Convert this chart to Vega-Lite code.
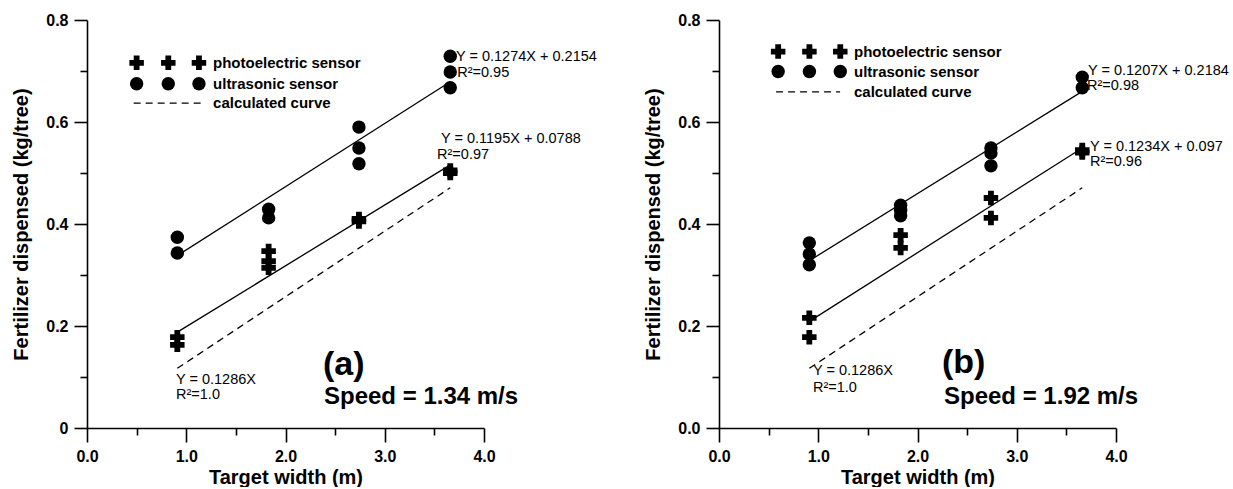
{
"$schema":"https://vega.github.io/schema/vega-lite/v6.json",
"autosize":{"type":"pad"},
"padding":{"left":11,"top":12,"right":0,"bottom":0},
"background":"white",
"bounds":"flush",
"spacing":235,
"config":{
 "font":"Liberation Sans",
 "view":{"stroke":null},
 "axis":{"grid":false,"domainColor":"black","domainWidth":1.6,"tickColor":"black","tickWidth":1.6,"labelFont":"Liberation Sans","labelFontWeight":"bold","labelFontSize":16,"labelColor":"black","titleFont":"Liberation Sans","titleFontWeight":"bold","titleFontSize":20,"titleColor":"black","labelOverlap":false,"labelFlush":false},
 "point":{"filled":true,"color":"black","strokeWidth":0,"opacity":1},
 "text":{"font":"Liberation Sans","color":"black","align":"left","baseline":"middle","fontSize":14.5},
 "line":{"color":"black","strokeWidth":1.3},
 "rule":{"color":"black","strokeWidth":1.3}
},
"datasets":{
 "fits":[
  {"panel":"a","fit":"ultrasonic","width":0.91,"fert":0.338},
  {"panel":"a","fit":"ultrasonic","width":3.66,"fert":0.679},
  {"panel":"a","fit":"photoelectric","width":0.91,"fert":0.188},
  {"panel":"a","fit":"photoelectric","width":3.66,"fert":0.516},
  {"panel":"a","fit":"calculated","width":0.91,"fert":0.117},
  {"panel":"a","fit":"calculated","width":3.66,"fert":0.471},
  {"panel":"b","fit":"ultrasonic","width":0.91,"fert":0.328},
  {"panel":"b","fit":"ultrasonic","width":3.66,"fert":0.660},
  {"panel":"b","fit":"photoelectric","width":0.91,"fert":0.209},
  {"panel":"b","fit":"photoelectric","width":3.66,"fert":0.549},
  {"panel":"b","fit":"calculated","width":0.91,"fert":0.117},
  {"panel":"b","fit":"calculated","width":3.66,"fert":0.471}
 ],
 "points":[
  {"panel":"a","sensor":"photoelectric","width":0.91,"fert":0.178},
  {"panel":"a","sensor":"photoelectric","width":0.91,"fert":0.163},
  {"panel":"a","sensor":"photoelectric","width":1.83,"fert":0.347},
  {"panel":"a","sensor":"photoelectric","width":1.83,"fert":0.327},
  {"panel":"a","sensor":"photoelectric","width":1.83,"fert":0.314},
  {"panel":"a","sensor":"photoelectric","width":2.74,"fert":0.410},
  {"panel":"a","sensor":"photoelectric","width":2.74,"fert":0.405},
  {"panel":"a","sensor":"photoelectric","width":3.66,"fert":0.505},
  {"panel":"a","sensor":"photoelectric","width":3.66,"fert":0.500},
  {"panel":"a","sensor":"ultrasonic","width":0.91,"fert":0.374},
  {"panel":"a","sensor":"ultrasonic","width":0.91,"fert":0.343},
  {"panel":"a","sensor":"ultrasonic","width":1.83,"fert":0.429},
  {"panel":"a","sensor":"ultrasonic","width":1.83,"fert":0.412},
  {"panel":"a","sensor":"ultrasonic","width":2.74,"fert":0.590},
  {"panel":"a","sensor":"ultrasonic","width":2.74,"fert":0.549},
  {"panel":"a","sensor":"ultrasonic","width":2.74,"fert":0.518},
  {"panel":"a","sensor":"ultrasonic","width":3.66,"fert":0.729},
  {"panel":"a","sensor":"ultrasonic","width":3.66,"fert":0.698},
  {"panel":"a","sensor":"ultrasonic","width":3.66,"fert":0.667},
  {"panel":"b","sensor":"photoelectric","width":0.91,"fert":0.216},
  {"panel":"b","sensor":"photoelectric","width":0.91,"fert":0.178},
  {"panel":"b","sensor":"photoelectric","width":1.83,"fert":0.378},
  {"panel":"b","sensor":"photoelectric","width":1.83,"fert":0.353},
  {"panel":"b","sensor":"photoelectric","width":2.74,"fert":0.451},
  {"panel":"b","sensor":"photoelectric","width":2.74,"fert":0.412},
  {"panel":"b","sensor":"photoelectric","width":3.66,"fert":0.545},
  {"panel":"b","sensor":"photoelectric","width":3.66,"fert":0.540},
  {"panel":"b","sensor":"ultrasonic","width":0.91,"fert":0.363},
  {"panel":"b","sensor":"ultrasonic","width":0.91,"fert":0.341},
  {"panel":"b","sensor":"ultrasonic","width":0.91,"fert":0.320},
  {"panel":"b","sensor":"ultrasonic","width":1.83,"fert":0.437},
  {"panel":"b","sensor":"ultrasonic","width":1.83,"fert":0.427},
  {"panel":"b","sensor":"ultrasonic","width":1.83,"fert":0.416},
  {"panel":"b","sensor":"ultrasonic","width":2.74,"fert":0.549},
  {"panel":"b","sensor":"ultrasonic","width":2.74,"fert":0.539},
  {"panel":"b","sensor":"ultrasonic","width":2.74,"fert":0.514},
  {"panel":"b","sensor":"ultrasonic","width":3.66,"fert":0.688},
  {"panel":"b","sensor":"ultrasonic","width":3.66,"fert":0.667}
 ]
},
"hconcat":[
 {
  "width":397,"height":408,
  "layer":[
   {"data":{"name":"fits"},"transform":[{"filter":"datum.panel==='a' && datum.fit!=='calculated'"}],
    "mark":{"type":"line"},
    "encoding":{
     "x":{"field":"width","type":"quantitative","scale":{"domain":[0,4]},
      "axis":{"title":"Target width (m)","values":[0,0.5,1,1.5,2,2.5,3,3.5,4],"labelExpr":"datum.value % 1 === 0 ? format(datum.value,'.1f') : ''","tickSize":{"condition":{"test":"datum.value % 1 === 0","value":14},"value":7},"labelPadding":6,"titlePadding":3}},
     "y":{"field":"fert","type":"quantitative","scale":{"domain":[0,0.8]},
      "axis":{"title":"Fertilizer dispensed (kg/tree)","values":[0,0.1,0.2,0.3,0.4,0.5,0.6,0.7,0.8],"labelExpr":"round(datum.value*10) % 2 === 0 ? (datum.value === 0 ? '0' : format(datum.value,'.1f')) : ''","tickSize":{"condition":{"test":"round(datum.value*10) % 2 === 0","value":13},"value":7},"labelPadding":6,"titlePadding":14}},
     "detail":{"field":"fit"}}},
   {"data":{"name":"fits"},"transform":[{"filter":"datum.panel==='a' && datum.fit==='calculated'"}],
    "mark":{"type":"line","strokeDash":[7,5]},
    "encoding":{"x":{"field":"width","type":"quantitative"},"y":{"field":"fert","type":"quantitative"}}},
   {"data":{"name":"points"},"transform":[{"filter":"datum.panel==='a' && datum.sensor==='photoelectric'"}],
    "mark":{"type":"point","shape":"cross","size":210},
    "encoding":{"x":{"field":"width","type":"quantitative"},"y":{"field":"fert","type":"quantitative"}}},
   {"data":{"name":"points"},"transform":[{"filter":"datum.panel==='a' && datum.sensor==='ultrasonic'"}],
    "mark":{"type":"point","shape":"circle","size":180},
    "encoding":{"x":{"field":"width","type":"quantitative"},"y":{"field":"fert","type":"quantitative"}}},
   {"data":{"values":[{}]},"mark":{"type":"point","shape":"cross","size":210},"encoding":{"x":{"datum":0.5},"y":{"datum":0.716}}},
   {"data":{"values":[{}]},"mark":{"type":"point","shape":"cross","size":210},"encoding":{"x":{"datum":0.819},"y":{"datum":0.716}}},
   {"data":{"values":[{}]},"mark":{"type":"point","shape":"cross","size":210},"encoding":{"x":{"datum":1.128},"y":{"datum":0.716}}},
   {"data":{"values":[{}]},"mark":{"type":"point","shape":"circle","size":180},"encoding":{"x":{"datum":0.5},"y":{"datum":0.675}}},
   {"data":{"values":[{}]},"mark":{"type":"point","shape":"circle","size":180},"encoding":{"x":{"datum":0.819},"y":{"datum":0.675}}},
   {"data":{"values":[{}]},"mark":{"type":"point","shape":"circle","size":180},"encoding":{"x":{"datum":1.128},"y":{"datum":0.675}}},
   {"data":{"values":[{}]},"mark":{"type":"rule","strokeDash":[7,5]},"encoding":{"x":{"datum":0.47},"x2":{"datum":1.15},"y":{"datum":0.637}}},
   {"data":{"values":[{}]},"mark":{"type":"text","text":"photoelectric sensor","fontWeight":"bold","fontSize":15},"encoding":{"x":{"datum":1.27},"y":{"datum":0.716}}},
   {"data":{"values":[{}]},"mark":{"type":"text","text":"ultrasonic sensor","fontWeight":"bold","fontSize":15},"encoding":{"x":{"datum":1.27},"y":{"datum":0.675}}},
   {"data":{"values":[{}]},"mark":{"type":"text","text":"calculated curve","fontWeight":"bold","fontSize":15},"encoding":{"x":{"datum":1.27},"y":{"datum":0.637}}},
   {"data":{"values":[{}]},"mark":{"type":"text","text":"Y = 0.1274X + 0.2154"},"encoding":{"x":{"datum":3.718},"y":{"datum":0.728}}},
   {"data":{"values":[{}]},"mark":{"type":"text","text":"R²=0.95"},"encoding":{"x":{"datum":3.73},"y":{"datum":0.696}}},
   {"data":{"values":[{}]},"mark":{"type":"text","text":"Y = 0.1195X + 0.0788"},"encoding":{"x":{"datum":3.567},"y":{"datum":0.566}}},
   {"data":{"values":[{}]},"mark":{"type":"text","text":"R²=0.97"},"encoding":{"x":{"datum":3.527},"y":{"datum":0.535}}},
   {"data":{"values":[{}]},"mark":{"type":"text","text":"Y = 0.1286X"},"encoding":{"x":{"datum":0.897},"y":{"datum":0.094}}},
   {"data":{"values":[{}]},"mark":{"type":"text","text":"R²=1.0"},"encoding":{"x":{"datum":0.897},"y":{"datum":0.065}}},
   {"data":{"values":[{}]},"mark":{"type":"text","text":"(a)","fontWeight":"bold","fontSize":34},"encoding":{"x":{"datum":2.378},"y":{"datum":0.1235}}},
   {"data":{"values":[{}]},"mark":{"type":"text","text":"Speed = 1.34 m/s","fontWeight":"bold","fontSize":24},"encoding":{"x":{"datum":2.388},"y":{"datum":0.0608}}}
  ]
 },
 {
  "width":397,"height":408,
  "layer":[
   {"data":{"name":"fits"},"transform":[{"filter":"datum.panel==='b' && datum.fit!=='calculated'"}],
    "mark":{"type":"line"},
    "encoding":{
     "x":{"field":"width","type":"quantitative","scale":{"domain":[0,4]},
      "axis":{"title":"Target width (m)","values":[0,0.5,1,1.5,2,2.5,3,3.5,4],"labelExpr":"datum.value % 1 === 0 ? format(datum.value,'.1f') : ''","tickSize":{"condition":{"test":"datum.value % 1 === 0","value":14},"value":7},"labelPadding":6,"titlePadding":3}},
     "y":{"field":"fert","type":"quantitative","scale":{"domain":[0,0.8]},
      "axis":{"title":"Fertilizer dispensed (kg/tree)","values":[0,0.1,0.2,0.3,0.4,0.5,0.6,0.7,0.8],"labelExpr":"round(datum.value*10) % 2 === 0 ? format(datum.value,'.1f') : ''","tickSize":{"condition":{"test":"round(datum.value*10) % 2 === 0","value":13},"value":7},"labelPadding":6,"titlePadding":14}},
     "detail":{"field":"fit"}}},
   {"data":{"name":"fits"},"transform":[{"filter":"datum.panel==='b' && datum.fit==='calculated'"}],
    "mark":{"type":"line","strokeDash":[7,5]},
    "encoding":{"x":{"field":"width","type":"quantitative"},"y":{"field":"fert","type":"quantitative"}}},
   {"data":{"name":"points"},"transform":[{"filter":"datum.panel==='b' && datum.sensor==='photoelectric'"}],
    "mark":{"type":"point","shape":"cross","size":210},
    "encoding":{"x":{"field":"width","type":"quantitative"},"y":{"field":"fert","type":"quantitative"}}},
   {"data":{"name":"points"},"transform":[{"filter":"datum.panel==='b' && datum.sensor==='ultrasonic'"}],
    "mark":{"type":"point","shape":"circle","size":180},
    "encoding":{"x":{"field":"width","type":"quantitative"},"y":{"field":"fert","type":"quantitative"}}},
   {"data":{"values":[{}]},"mark":{"type":"point","shape":"cross","size":210},"encoding":{"x":{"datum":0.596},"y":{"datum":0.738}}},
   {"data":{"values":[{}]},"mark":{"type":"point","shape":"cross","size":210},"encoding":{"x":{"datum":0.911},"y":{"datum":0.738}}},
   {"data":{"values":[{}]},"mark":{"type":"point","shape":"cross","size":210},"encoding":{"x":{"datum":1.222},"y":{"datum":0.738}}},
   {"data":{"values":[{}]},"mark":{"type":"point","shape":"circle","size":180},"encoding":{"x":{"datum":0.596},"y":{"datum":0.699}}},
   {"data":{"values":[{}]},"mark":{"type":"point","shape":"circle","size":180},"encoding":{"x":{"datum":0.911},"y":{"datum":0.699}}},
   {"data":{"values":[{}]},"mark":{"type":"point","shape":"circle","size":180},"encoding":{"x":{"datum":1.222},"y":{"datum":0.699}}},
   {"data":{"values":[{}]},"mark":{"type":"rule","strokeDash":[7,5]},"encoding":{"x":{"datum":0.575},"x2":{"datum":1.22},"y":{"datum":0.659}}},
   {"data":{"values":[{}]},"mark":{"type":"text","text":"photoelectric sensor","fontWeight":"bold","fontSize":15},"encoding":{"x":{"datum":1.36},"y":{"datum":0.738}}},
   {"data":{"values":[{}]},"mark":{"type":"text","text":"ultrasonic sensor","fontWeight":"bold","fontSize":15},"encoding":{"x":{"datum":1.36},"y":{"datum":0.699}}},
   {"data":{"values":[{}]},"mark":{"type":"text","text":"calculated curve","fontWeight":"bold","fontSize":15},"encoding":{"x":{"datum":1.36},"y":{"datum":0.659}}},
   {"data":{"values":[{}]},"mark":{"type":"text","text":"Y = 0.1207X + 0.2184"},"encoding":{"x":{"datum":3.718},"y":{"datum":0.7006}}},
   {"data":{"values":[{}]},"mark":{"type":"text","text":"R²=0.98"},"encoding":{"x":{"datum":3.708},"y":{"datum":0.6706}}},
   {"data":{"values":[{}]},"mark":{"type":"text","text":"Y = 0.1234X + 0.097"},"encoding":{"x":{"datum":3.738},"y":{"datum":0.5516}}},
   {"data":{"values":[{}]},"mark":{"type":"text","text":"R²=0.96"},"encoding":{"x":{"datum":3.738},"y":{"datum":0.522}}},
   {"data":{"values":[{}]},"mark":{"type":"text","text":"Y = 0.1286X"},"encoding":{"x":{"datum":0.947},"y":{"datum":0.1118}}},
   {"data":{"values":[{}]},"mark":{"type":"text","text":"R²=1.0"},"encoding":{"x":{"datum":0.947},"y":{"datum":0.078}}},
   {"data":{"values":[{}]},"mark":{"type":"text","text":"(b)","fontWeight":"bold","fontSize":34},"encoding":{"x":{"datum":2.247},"y":{"datum":0.1275}}},
   {"data":{"values":[{}]},"mark":{"type":"text","text":"Speed = 1.92 m/s","fontWeight":"bold","fontSize":24},"encoding":{"x":{"datum":2.267},"y":{"datum":0.0608}}}
  ]
 }
]
}
